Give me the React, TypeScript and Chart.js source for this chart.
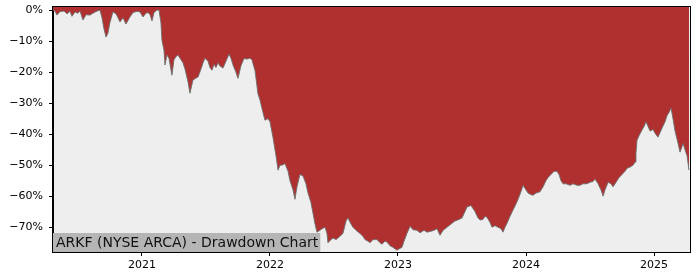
import { useEffect, useRef } from "react";
import { Chart, registerables } from "chart.js";

Chart.register(...registerables);

// Time as decimal year
const timeYears: number[] = [
  2020.305, 2020.320, 2020.336, 2020.359, 2020.391, 2020.414, 2020.438, 2020.453, 2020.477, 2020.500,
  2020.516, 2020.539, 2020.563, 2020.594, 2020.625, 2020.656, 2020.672, 2020.688, 2020.703, 2020.719,
  2020.734, 2020.750, 2020.773, 2020.797, 2020.813, 2020.828, 2020.852, 2020.875, 2020.906, 2020.930,
  2020.961, 2020.984, 2021.008, 2021.031, 2021.047, 2021.063, 2021.078, 2021.094, 2021.117, 2021.133,
  2021.148, 2021.156, 2021.172, 2021.180, 2021.195, 2021.211, 2021.234, 2021.250, 2021.266, 2021.281,
  2021.305, 2021.320, 2021.336, 2021.359, 2021.375, 2021.398, 2021.422, 2021.438, 2021.461, 2021.477,
  2021.492, 2021.516, 2021.531, 2021.547, 2021.563, 2021.578, 2021.594, 2021.609, 2021.633, 2021.656,
  2021.680, 2021.695, 2021.711, 2021.734, 2021.750, 2021.773, 2021.797, 2021.820, 2021.844, 2021.859,
  2021.883, 2021.906, 2021.922, 2021.945, 2021.961, 2021.984, 2022.000, 2022.023, 2022.047, 2022.063,
  2022.078, 2022.094, 2022.117, 2022.141, 2022.156, 2022.180, 2022.195, 2022.211, 2022.234, 2022.258,
  2022.281, 2022.297, 2022.320, 2022.336, 2022.352, 2022.367, 2022.391, 2022.406, 2022.430, 2022.445,
  2022.453, 2022.477, 2022.492, 2022.516, 2022.531, 2022.555, 2022.570, 2022.594, 2022.609, 2022.633,
  2022.648, 2022.672, 2022.703, 2022.727, 2022.742, 2022.766, 2022.781, 2022.805, 2022.836, 2022.859,
  2022.875, 2022.898, 2022.914, 2022.938, 2022.961, 2022.977, 2022.992, 2023.008, 2023.031, 2023.047,
  2023.070, 2023.094, 2023.117, 2023.148, 2023.172, 2023.203, 2023.227, 2023.258, 2023.281, 2023.305,
  2023.328, 2023.352, 2023.383, 2023.414, 2023.445, 2023.477, 2023.500, 2023.523, 2023.539, 2023.570,
  2023.586, 2023.602, 2023.625, 2023.641, 2023.664, 2023.680, 2023.695, 2023.719, 2023.734, 2023.758,
  2023.781, 2023.805, 2023.820, 2023.836, 2023.852, 2023.875, 2023.898, 2023.922, 2023.938, 2023.961,
  2023.977, 2023.992, 2024.016, 2024.039, 2024.055, 2024.078, 2024.109, 2024.133, 2024.156, 2024.172,
  2024.195, 2024.219, 2024.242, 2024.258, 2024.273, 2024.289, 2024.313, 2024.344, 2024.367, 2024.398,
  2024.422, 2024.445, 2024.477, 2024.500, 2024.523, 2024.539, 2024.563, 2024.586, 2024.602, 2024.617,
  2024.641, 2024.664, 2024.680, 2024.703, 2024.727, 2024.750, 2024.773, 2024.789, 2024.813, 2024.836,
  2024.852, 2024.859, 2024.867, 2024.883, 2024.906, 2024.922, 2024.938, 2024.953, 2024.969, 2024.992,
  2025.008, 2025.031, 2025.047, 2025.063, 2025.086, 2025.102, 2025.117, 2025.133, 2025.148, 2025.164,
  2025.188, 2025.203, 2025.219, 2025.227, 2025.242, 2025.258, 2025.273,
];

// Drawdown in percent
const drawdown: number[] = [
  0, -0.3, -1.6, -0.5, -0.3, -1.2, -0.4, -2.0, -0.6, -1.0,
  -0.3, -3.2, -1.5, -1.6, -0.8, -0.2, 0, -2.5, -6, -8.7,
  -7.5, -4, -0.6, -1.2, -2.5, -3.8, -2.5, -4.5, -2.2, -0.8,
  -0.4, -0.6, -2.2, -1, -0.8, -1.5, -3.5, -0.8, 0, 0,
  -4, -9.7, -13, -17.7, -14.5, -15.5, -21, -16, -15, -14.5,
  -16, -17, -19, -23, -26.8, -22.6, -21.9, -21.6, -19, -17,
  -15.5, -16.5, -18.5, -19.4, -17.5, -18.5, -17, -18, -18.7, -16.5,
  -14.2, -15.5, -17.7, -20, -22, -18, -15.6, -15.8, -15.5, -16,
  -19.5, -27, -29, -33, -35.5, -35, -36, -41, -47, -51.6,
  -50, -50, -49.5, -52, -55, -58, -61, -57, -53, -53.5,
  -56, -59, -62, -65.5, -69, -71.6, -71, -70.5, -70, -72,
  -75, -74, -73.5, -74, -73.5, -72.6, -72, -68, -67, -69,
  -70, -71, -72, -73, -74, -74.5, -75, -74, -74, -75,
  -75.5, -74.5, -74.8, -76, -76.5, -77, -77.4, -77, -76.5, -74.5,
  -72, -69.7, -70.8, -71, -71.8, -71, -71.6, -71.3, -71, -70.5,
  -72.6, -71, -70, -69, -68, -67.5, -67, -65, -63.5, -63,
  -64, -65, -67, -67.7, -67.5, -66.5, -66.8, -68.5, -70, -69.5,
  -70, -70.5, -71.6, -70, -68.7, -66.5, -64.5, -62.5, -61, -58.5,
  -56.5, -57.5, -59, -59.5, -59.7, -59, -58.6, -57, -55, -54,
  -53, -52, -52, -53, -55, -56, -56, -56.5, -56, -56.5,
  -56.5, -56, -56, -55.5, -55.3, -54.5, -56, -58, -60, -58,
  -55.5, -56, -57, -55.5, -54, -53, -52, -51, -50.6, -50,
  -49, -46, -42, -40.5, -38.7, -37.5, -36, -37.5, -39, -38.5,
  -39.7, -41, -39.5, -38, -36, -34, -33, -31.6, -35, -39,
  -43, -45.8, -44, -43, -45, -47, -51.6,
];

const yearTicks: number[] = [2021, 2022, 2023, 2024, 2025];
const percentTicks: number[] = [-70, -60, -50, -40, -30, -20, -10, 0];
const chartTitle = "ARKF (NYSE ARCA) - Drawdown Chart";

const FONT = "'DejaVu Sans', sans-serif";

export default function App() {
  const ref = useRef<HTMLCanvasElement | null>(null);

  useEffect(() => {
    if (!ref.current) return;
    const points = timeYears.map((t, i) => ({ x: t, y: drawdown[i] }));

    const framePlugin = {
      id: "frame",
      beforeDraw(chart: any) {
        const { ctx, chartArea } = chart;
        ctx.save();
        ctx.fillStyle = "#eeeeee";
        ctx.fillRect(chartArea.left, chartArea.top, chartArea.right - chartArea.left, chartArea.bottom - chartArea.top);
        ctx.restore();
      },
      afterDraw(chart: any) {
        const { ctx, chartArea } = chart;
        ctx.save();
        // label box
        ctx.font = `14px ${FONT}`;
        const w = ctx.measureText(chartTitle).width;
        ctx.fillStyle = "#b5b5b5";
        ctx.fillRect(chartArea.left, chartArea.bottom - 19, w + 5, 19);
        ctx.fillStyle = "#111";
        ctx.textBaseline = "alphabetic";
        ctx.fillText(chartTitle, chartArea.left + 3, chartArea.bottom - 5);
        // frame
        ctx.strokeStyle = "#000";
        ctx.lineWidth = 1;
        ctx.strokeRect(chartArea.left - 0.5, chartArea.top - 0.5, chartArea.right - chartArea.left + 1, chartArea.bottom - chartArea.top + 1);
        ctx.restore();
      },
    };

    const chart = new Chart(ref.current, {
      type: "line",
      data: {
        datasets: [
          {
            data: points,
            fill: "end",
            backgroundColor: "#b03030",
            borderColor: "rgba(110,110,110,0.9)",
            borderWidth: 1,
            pointRadius: 0,
            tension: 0,
          },
        ],
      },
      options: {
        animation: false,
        responsive: false,
        maintainAspectRatio: false,
        layout: { padding: { top: 7, right: 10, left: 0, bottom: 0 } },
        plugins: { legend: { display: false }, tooltip: { enabled: false } },
        scales: {
          x: {
            type: "linear",
            min: 2020.305,
            max: 2025.281,
            afterBuildTicks(scale: any) {
              scale.ticks = yearTicks.map((v) => ({ value: v }));
            },
            afterFit(scale: any) {
              scale.height = 28;
              scale.paddingLeft = 0;
              scale.paddingRight = 0;
            },
            ticks: {
              color: "#000",
              font: { family: FONT, size: 11 },
              padding: 3,
              maxRotation: 0,
              autoSkip: false,
              callback: (v: any) => String(v),
            },
            grid: { drawOnChartArea: false, tickLength: 4, tickColor: "#000" },
            border: { color: "#000" },
          },
          y: {
            min: -78,
            max: 1,
            afterBuildTicks(scale: any) {
              scale.ticks = percentTicks.map((v) => ({ value: v }));
            },
            afterFit(scale: any) {
              scale.width = 53;
              scale.paddingTop = 0;
              scale.paddingBottom = 0;
            },
            ticks: {
              color: "#000",
              font: { family: FONT, size: 11 },
              padding: 6,
              autoSkip: false,
              callback: (v: any) => (Number(v) === 0 ? "0%" : "\u2212" + Math.abs(Number(v)) + "%"),
            },
            grid: { drawOnChartArea: false, tickLength: 4, tickColor: "#000" },
            border: { color: "#000" },
          },
        },
      },
      plugins: [framePlugin],
    });
    return () => chart.destroy();
  }, []);

  return (
    <div style={{ position: "absolute", left: 0, top: 0, width: 700, height: 280, background: "#fff" }}>
      <canvas ref={ref} width={700} height={280} style={{ width: 700, height: 280 }} />
    </div>
  );
}
